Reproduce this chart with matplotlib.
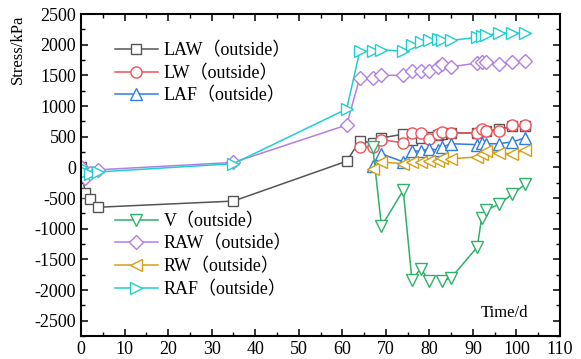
import numpy as np
import matplotlib.pyplot as plt
from matplotlib.ticker import MultipleLocator

plt.rcParams['font.family'] = ['Liberation Serif', 'Noto Sans CJK SC']
plt.rcParams['axes.unicode_minus'] = False

nan = np.nan
days = [0, 1, 2, 4, 35, 61, 64, 67, 69, 74, 76, 78, 80, 82, 83, 85, 91, 92, 93, 96, 99, 102]

LAW = [0, -420, -520, -650, -550, 100, 430, 400, 480, 540, 450, 480, 490, 530, 550, 560, 560, 600, 590, 620, 670, 680]
LW = [nan, nan, nan, nan, nan, nan, 330, 330, 450, 400, 560, 560, 470, 550, 580, 560, 560, 630, 600, 590, 685, 685]
LAF = [nan, nan, nan, nan, nan, nan, nan, 20, 220, 90, 265, 265, 305, 280, 330, 385, 370, 395, 385, 385, 415, 480]
V = [nan, nan, nan, nan, nan, nan, nan, 330, -960, -375, -1840, -1650, -1855, nan, -1855, -1800, -1300, -820, -700, -600, -440, -275]
RAW = [0, -180, -100, -40, 80, 690, 1460, 1460, 1500, 1500, 1570, 1570, 1570, 1640, 1680, 1640, 1700, 1720, 1720, 1680, 1720, 1735]
RW = [nan, nan, nan, nan, nan, nan, nan, -20, 85, 60, 85, 85, 105, 105, 160, 140, 170, 220, 265, 235, 220, 280]
RAF = [0, -80, -110, -75, 60, 950, 1890, 1890, 1920, 1890, 2000, 2040, 2080, 2100, 2070, 2070, 2120, 2140, 2150, 2190, 2190, 2190]

series = [
    ('LAW（outside）', LAW, '#555555', 's', 7),
    ('LW（outside）', LW, '#f0525a', 'o', 8),
    ('LAF（outside）', LAF, '#2f7de1', '^', 8.5),
    ('V（outside）', V, '#2fb06b', 'v', 8.5),
    ('RAW（outside）', RAW, '#b27ee8', 'D', 7),
    ('RW（outside）', RW, '#d4a017', '<', 8.5),
    ('RAF（outside）', RAF, '#1fcfcf', '>', 8.5),
]

fig = plt.figure(figsize=(5.81, 3.59), dpi=100)
ax = fig.add_axes([0.1394, 0.064, 0.8245, 0.897])

lines = []
for name, vals, col, mk, ms in series:
    ln, = ax.plot(days, vals, color=col, marker=mk, markersize=ms, lw=1.1,
                  markerfacecolor='white', markeredgecolor=col, markeredgewidth=1.0,
                  label=name)
    lines.append(ln)

ax.set_xlim(0, 110)
ax.set_ylim(-2750, 2500)
ax.xaxis.set_major_locator(MultipleLocator(10))
ax.xaxis.set_minor_locator(MultipleLocator(5))
ax.yaxis.set_major_locator(MultipleLocator(500))
ax.yaxis.set_minor_locator(MultipleLocator(250))
ax.tick_params(which='both', direction='in', top=True, right=True, labelsize=13)
ax.tick_params(which='major', length=5, width=1.1)
ax.tick_params(which='minor', length=3, width=1.0)
for s in ax.spines.values():
    s.set_linewidth(1.5)

ax.set_ylabel('Stress/kPa', fontsize=12)
ax.yaxis.set_label_coords(-0.115, 0.89)
ax.text(0.885, 0.071, 'Time/d', transform=ax.transAxes, fontsize=12,
        ha='center', va='center')

leg1 = ax.legend(handles=lines[:3], loc='upper left', bbox_to_anchor=(0.055, 0.935),
                 frameon=False, fontsize=13, handlelength=2.4, labelspacing=0.3,
                 handletextpad=0.3, borderaxespad=0)
ax.add_artist(leg1)
ax.legend(handles=lines[3:], loc='upper left', bbox_to_anchor=(0.055, 0.405),
          frameon=False, fontsize=13, handlelength=2.4, labelspacing=0.3,
          handletextpad=0.3, borderaxespad=0)

fig.savefig('out.png', dpi=100)
